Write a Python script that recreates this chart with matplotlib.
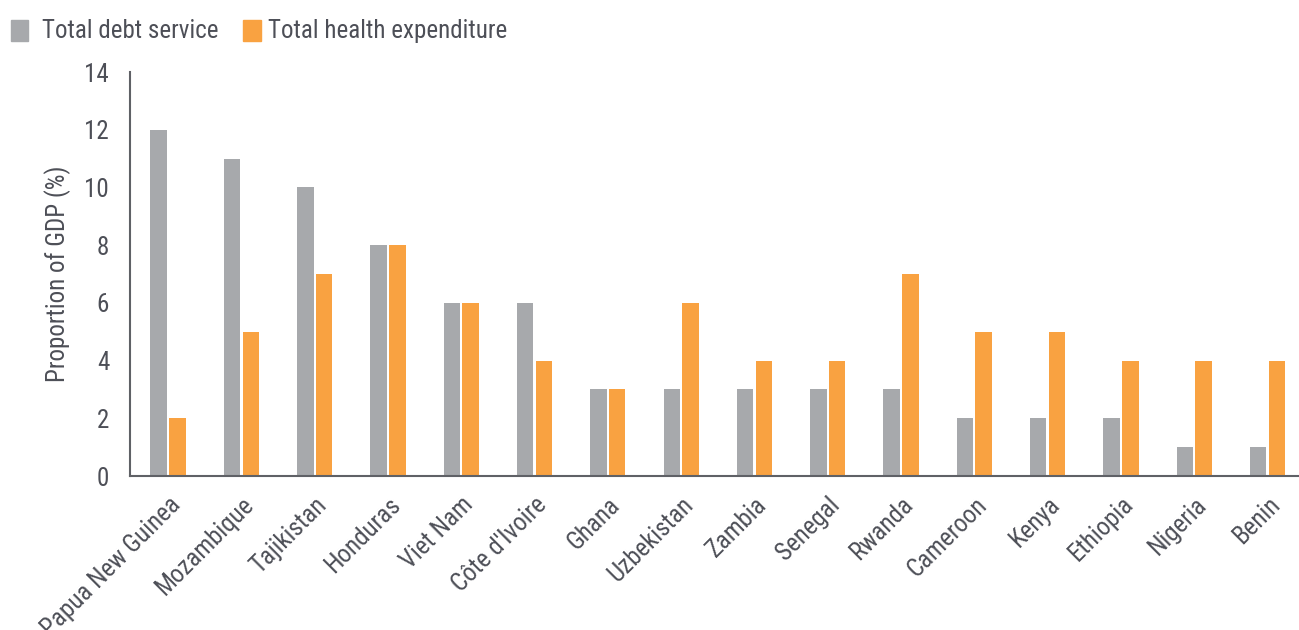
import matplotlib
matplotlib.use("Agg")
import matplotlib.pyplot as plt
import numpy as np
from matplotlib.patches import Rectangle
import matplotlib.transforms as mtransforms

countries = ["Papua New Guinea", "Mozambique", "Tajikistan", "Honduras", "Viet Nam",
             "Côte d'Ivoire", "Ghana", "Uzbekistan", "Zambia", "Senegal", "Rwanda",
             "Cameroon", "Kenya", "Ethiopia", "Nigeria", "Benin"]
debt_service = [12, 11, 10, 8, 6, 6, 3, 3, 3, 3, 3, 2, 2, 2, 1, 1]
health_exp = [2, 5, 7, 8, 6, 4, 3, 6, 4, 4, 7, 5, 5, 4, 4, 4]
yticks = [0, 2, 4, 6, 8, 10, 12, 14]

GREY = "#A7A9AC"
ORANGE = "#F9A241"
TEXT = "#4D4F57"
AXIS = "#5F6166"

plt.rcParams['font.family'] = ['Roboto Condensed', 'DejaVu Sans']
FS = 18

W, H = 1299, 630
fig = plt.figure(figsize=(W / 100, H / 100), dpi=100)
ax = fig.add_axes([130 / W, (H - 476) / H, (W - 130) / W, (476 - 72) / H])

x = np.arange(len(countries))
bw = 0.225
off = 0.128
ax.bar(x - off, debt_service, width=bw, color=GREY)
ax.bar(x + off, health_exp, width=bw, color=ORANGE)

ax.set_xlim(-0.52, 15.43)
ax.set_ylim(0, 14)
ax.set_yticks(yticks)
ax.set_yticklabels([str(v) for v in yticks], fontsize=FS, color=TEXT)
ax.set_xticks(x)
ax.set_xticklabels(countries, rotation=45, ha='right', rotation_mode='anchor',
                   fontsize=FS, color=TEXT)
shift = mtransforms.ScaledTranslation(-4 / 100, 0, fig.dpi_scale_trans)
for lab in ax.get_xticklabels():
    lab.set_transform(lab.get_transform() + shift)
ax.tick_params(axis='both', length=0)
ax.tick_params(axis='y', pad=15)
ax.tick_params(axis='x', pad=12)
for s in ['top', 'right']:
    ax.spines[s].set_visible(False)
for s in ['left', 'bottom']:
    ax.spines[s].set_color(AXIS)
    ax.spines[s].set_linewidth(1.5)
ax.set_ylabel("Proportion of GDP (%)", fontsize=18, color=TEXT, labelpad=10)

# legend
fig.patches.append(Rectangle((11 / W, 1 - 41 / H), 17 / W, 21 / H,
                             transform=fig.transFigure, color=GREY))
fig.text(42 / W, 1 - 31 / H, "Total debt service", fontsize=FS, color=TEXT,
         va='center', ha='left')
fig.patches.append(Rectangle((243 / W, 1 - 41 / H), 18 / W, 21 / H,
                             transform=fig.transFigure, color=ORANGE))
fig.text(268 / W, 1 - 31 / H, "Total health expenditure", fontsize=FS, color=TEXT,
         va='center', ha='left')

fig.savefig("out.png", dpi=100)
